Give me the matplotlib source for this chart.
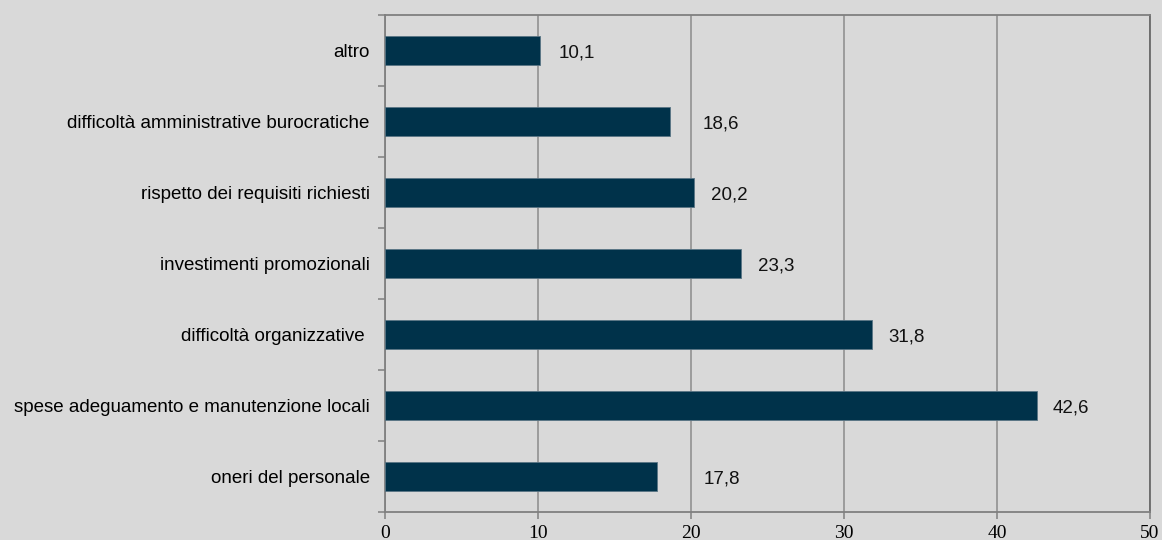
import numpy as np
import matplotlib.pyplot as plt

categorie = ['oneri del personale',
             'spese adeguamento e manutenzione locali',
             'difficoltà organizzative ',
             'investimenti promozionali',
             'rispetto dei requisiti richiesti',
             'difficoltà amministrative burocratiche',
             'altro']
valori = [17.8, 42.6, 31.8, 23.3, 20.2, 18.6, 10.1]
etichette = ['17,8', '42,6', '31,8', '23,3', '20,2', '18,6', '10,1']
# label offsets in pixels from bar end
offset_px = [46, 16, 17, 17, 17, 33, 19]

bg = '#d9d9d9'
bar_col = '#00324a'
grid_col = '#8c8c8c'

fig = plt.figure(figsize=(11.62, 5.40), dpi=100, facecolor=bg)
ax = fig.add_axes([385 / 1162, 1 - 512 / 540, 765 / 1162, 497 / 540])
ax.set_facecolor(bg)

y = np.arange(len(categorie))
ax.barh(y, valori, height=0.4, color=bar_col, edgecolor='#5a7585', linewidth=0.6, zorder=3)

for yi, v, lab, off in zip(y, valori, etichette, offset_px):
    ax.annotate(lab, (v, yi), xytext=(off * 0.72, -1.5), textcoords='offset points',
                va='center', ha='left', fontsize=13.5, family='Liberation Sans', color='#111111')

ax.set_xlim(0, 50)
ax.set_ylim(-0.5, 6.5)
ax.set_xticks(range(0, 51, 10))
ax.set_xticklabels([str(t) for t in range(0, 51, 10)], family='Liberation Serif', fontsize=14)
ax.xaxis.grid(True, color=grid_col, linewidth=1.1, zorder=0)
ax.set_axisbelow(True)

ax.set_yticks(y)
ax.set_yticklabels(categorie, family='Liberation Sans', fontsize=13.5)
ax.set_yticks(np.arange(-0.5, 7, 1), minor=True)
ax.tick_params(axis='y', which='major', length=0, pad=11)
ax.tick_params(axis='y', which='minor', length=5, width=1.1, color='#808080')
ax.tick_params(axis='x', length=5, width=1.1, color='#808080', pad=4)

for s in ['left', 'bottom', 'top']:
    ax.spines[s].set_color('#808080')
    ax.spines[s].set_linewidth(1.3)
ax.spines['right'].set_color('#6a6a6a')
ax.spines['right'].set_linewidth(1.3)

fig.savefig('out.png', dpi=100, facecolor=bg)
